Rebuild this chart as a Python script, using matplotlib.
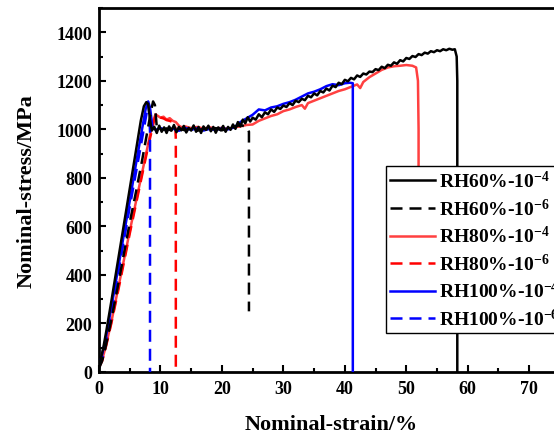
import matplotlib
matplotlib.use('Agg')
import matplotlib.pyplot as plt
from matplotlib.ticker import MultipleLocator

plt.rcParams['font.family'] = 'Liberation Serif'
plt.rcParams['font.weight'] = 'bold'
plt.rcParams['mathtext.fontset'] = 'custom'
plt.rcParams['mathtext.rm'] = 'Liberation Serif:bold'
plt.rcParams['mathtext.it'] = 'Liberation Serif:bold'
plt.rcParams['mathtext.bf'] = 'Liberation Serif:bold'

# RH60%-10^-4 (black solid)
rh60_4_strain = [0, 0.3, 0.7, 1.2, 2, 3, 4, 5, 6, 6.8, 7.3, 7.7, 8.0, 8.3, 8.6, 9.0, 9.4, 9.8,
                 10.2, 10.6, 11.0, 11.4, 11.8, 12.2, 12.6, 13.0, 13.4, 13.8, 14.2, 14.6, 15.0,
                 15.4, 15.8, 16.2, 16.6, 17.0, 17.4, 17.8, 18.2, 18.6, 19.0, 19.4, 19.8, 20.2,
                 20.6, 21.0, 21.4, 21.8, 22.2, 22.6, 23.0, 23.4, 23.8, 24.2, 24.6, 25.0, 25.5,
                 26.0, 26.5, 27.0, 27.5, 28.0, 28.5, 29.0, 29.5, 30.0, 30.5, 31.0, 31.5, 32.0,
                 32.5, 33.0, 33.5, 34.0, 34.5, 35.0, 35.5, 36.0, 36.5, 37.0, 37.5, 38.0, 38.5,
                 39.0, 39.5, 40.0, 40.5, 41.0, 41.5, 42.0, 42.5, 43.0, 43.5, 44.0, 44.5, 45.0,
                 45.5, 46.0, 46.5, 47.0, 47.5, 48.0, 48.5, 49.0, 49.5, 50.0, 50.5, 51.0, 51.5,
                 52.0, 52.5, 53.0, 53.5, 54.0, 54.5, 55.0, 55.5, 56.0, 56.5, 57.0, 57.5, 57.9,
                 58.2, 58.3, 58.3]
rh60_4_stress = [30, 55, 100, 170, 290, 445, 600, 755, 910, 1035, 1095, 1112, 1105, 1040, 995,
                 1010, 985, 1015, 990, 1008, 985, 1012, 995, 1018, 988, 1010, 996, 1014, 987,
                 1006, 995, 1016, 990, 1010, 985, 1012, 998, 1015, 992, 1010, 986, 1008, 996,
                 1014, 990, 1010, 998, 1020, 1002, 1030, 1012, 1040, 1025, 1050, 1032, 1048,
                 1040, 1062, 1050, 1070, 1062, 1082, 1072, 1090, 1084, 1098, 1092, 1108, 1100,
                 1118, 1112, 1126, 1120, 1138, 1132, 1148, 1140, 1158, 1152, 1168, 1160, 1180,
                 1174, 1192, 1186, 1204, 1198, 1212, 1206, 1222, 1216, 1230, 1226, 1238, 1236,
                 1248, 1244, 1258, 1252, 1266, 1262, 1276, 1270, 1285, 1280, 1294, 1290, 1302,
                 1298, 1310, 1306, 1316, 1312, 1322, 1318, 1326, 1322, 1330, 1326, 1332, 1328,
                 1330, 1300, 1200, 0]

# RH60%-10^-6 (black dashed)
rh60_6_strain = [0, 0.5, 1, 2, 3, 4, 5, 6, 7, 8, 8.5, 8.8, 9.1, 9.4, 10, 11, 12, 13, 14, 15,
                 16, 17, 18, 19, 20, 21, 22, 23, 24, 24.4, 24.4]
rh60_6_stress = [15, 45, 95, 215, 345, 480, 615, 740, 870, 1010, 1080, 1115, 1100, 1010, 995,
                 1004, 992, 1003, 996, 1006, 994, 1002, 998, 1005, 996, 1004, 1010, 1018,
                 1010, 990, 250]

# RH80%-10^-4 (red solid)
rh80_4_strain = [0, 0.5, 1, 2, 3, 4, 5, 6, 7, 8, 8.8, 9.2, 9.6, 10, 10.5, 11, 11.5, 12, 12.5,
                 13, 13.5, 14, 15, 16, 17, 18, 19, 20, 21, 22, 23, 24, 25, 26, 27, 28, 29, 30,
                 31, 32, 33, 33.5, 34, 35, 36, 37, 38, 39, 40, 41, 42, 42.5, 43, 44, 45, 46,
                 47, 48, 49, 50, 51, 51.6, 51.9, 52.0, 52.0]
rh80_4_stress = [20, 50, 95, 205, 330, 455, 580, 700, 820, 940, 1035, 1062, 1055, 1048, 1052,
                 1040, 1046, 1035, 1030, 1015, 1008, 1012, 1005, 1010, 1003, 1008, 1004, 1006,
                 1002, 1008, 1012, 1018, 1020, 1035, 1045, 1055, 1062, 1075, 1082, 1092, 1100,
                 1085, 1108, 1118, 1128, 1138, 1148, 1158, 1165, 1175, 1185, 1170, 1195,
                 1215, 1230, 1245, 1255, 1260, 1262, 1265, 1262, 1255, 1200, 1000, 200]

# RH80%-10^-6 (red dashed)
rh80_6_strain = [0, 0.5, 1, 2, 3, 4, 5, 6, 7, 8, 9, 9.4, 9.8, 10.5, 11, 11.5, 12, 12.4, 12.5,
                 12.5]
rh80_6_stress = [20, 45, 90, 200, 320, 445, 570, 690, 810, 930, 1040, 1065, 1050, 1045, 1038,
                 1035, 1030, 1020, 960, 0]

# RH100%-10^-4 (blue solid)
rh100_4_strain = [0, 0.4, 1.0, 2, 3, 4, 5, 6, 7, 7.6, 8.0, 8.3, 8.7, 9.2, 10, 11, 12, 13, 14,
                  15, 16, 17, 18, 19, 20, 21, 22, 23, 24, 25, 26, 27, 28, 29, 30, 31, 32, 33,
                  34, 35, 36, 37, 38, 39, 40, 40.8, 41.3, 41.3]
rh100_4_stress = [25, 60, 125, 265, 410, 560, 705, 855, 1000, 1085, 1115, 1090, 1010, 998, 1005,
                  996, 1003, 994, 1006, 998, 1004, 995, 1002, 997, 1005, 1000, 1008, 1030,
                  1045, 1060, 1082, 1078, 1090, 1095, 1105, 1112, 1122, 1135, 1148, 1155, 1165,
                  1178, 1186, 1182, 1190, 1192, 1190, 0]

# RH100%-10^-6 (blue dashed)
rh100_6_strain = [0, 0.5, 1, 2, 3, 4, 5, 6, 7, 7.7, 8.0, 8.2, 8.3, 8.3]
rh100_6_stress = [20, 55, 110, 245, 390, 535, 680, 820, 960, 1060, 1105, 1060, 990, 0]

labels = ['RH60%-10$^{-4}$', 'RH60%-10$^{-6}$', 'RH80%-10$^{-4}$',
          'RH80%-10$^{-6}$', 'RH100%-10$^{-4}$', 'RH100%-10$^{-6}$']

fig = plt.figure(figsize=(5.54, 4.35), dpi=100)
ax = fig.add_axes([99 / 554, 62 / 435, 464 / 554, 364 / 435])

dash = (4.8, 2.8)
lw = 1.8
h_rs, = ax.plot(rh80_4_strain, rh80_4_stress, color='#ff4040', lw=lw, zorder=2)
h_rd, = ax.plot(rh80_6_strain, rh80_6_stress, color='#ff0000', lw=lw, dashes=dash, zorder=2)
h_bs, = ax.plot(rh100_4_strain, rh100_4_stress, color='#0000ff', lw=lw, zorder=3)
h_bd, = ax.plot(rh100_6_strain, rh100_6_stress, color='#0000ff', lw=lw, dashes=dash, zorder=3)
h_ks, = ax.plot(rh60_4_strain, rh60_4_stress, color='black', lw=lw, zorder=4)
h_kd, = ax.plot(rh60_6_strain, rh60_6_stress, color='black', lw=lw, dashes=dash, zorder=4)

ax.set_xlim(0, 75.5)
ax.set_ylim(0, 1500)
ax.xaxis.set_major_locator(MultipleLocator(10))
ax.xaxis.set_minor_locator(MultipleLocator(5))
ax.yaxis.set_major_locator(MultipleLocator(200))
ax.yaxis.set_minor_locator(MultipleLocator(100))
ax.tick_params(which='both', direction='in', width=1.5, labelsize=13)
ax.tick_params(which='major', length=5)
ax.tick_params(which='minor', length=3)
ax.tick_params(axis='y', pad=5)
ax.tick_params(axis='x', pad=6)
for s in ax.spines.values():
    s.set_linewidth(2)

ax.set_xlabel('Nominal-strain/%', fontsize=16, fontweight='bold', labelpad=12)
ax.set_ylabel('Nominal-stress/MPa', fontsize=16, fontweight='bold', labelpad=14)

leg = fig.legend([h_ks, h_kd, h_rs, h_rd, h_bs, h_bd], labels,
                 loc='upper left', bbox_to_anchor=(386 / 554, 1 - 167 / 435),
                 bbox_transform=fig.transFigure, borderaxespad=0, fancybox=False,
                 edgecolor='black', framealpha=1, handlelength=2.3,
                 handletextpad=0.25, borderpad=0.2, labelspacing=0.33,
                 prop={'family': 'Liberation Serif', 'weight': 'bold', 'size': 14})
leg.get_frame().set_linewidth(1.0)

fig.savefig('out.png', dpi=100)
